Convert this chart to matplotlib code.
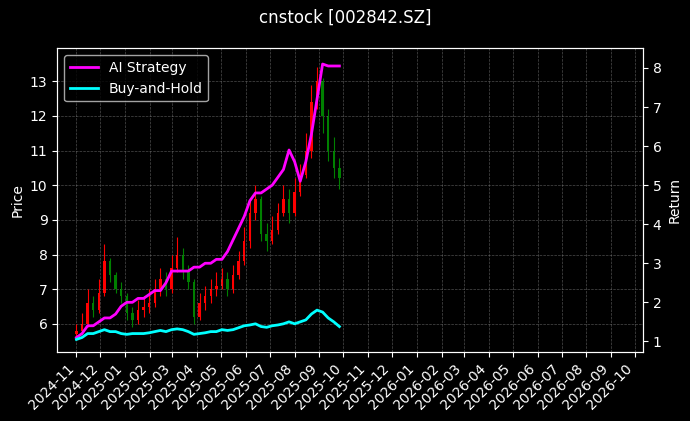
import matplotlib
matplotlib.use("Agg")
import matplotlib.pyplot as plt
import matplotlib.dates as mdates
import pandas as pd

# weekly OHLC
closes = [5.8, 6.0, 6.6, 6.4, 6.9, 7.8, 7.4, 7.0, 6.8, 6.3, 6.1, 6.4, 6.5,
          6.6, 7.0, 7.3, 7.0, 7.6, 8.0, 7.5, 7.2, 6.2, 6.6, 6.8, 7.0,
          7.1, 7.3, 7.0, 7.4, 7.8, 8.4, 9.2, 9.6, 8.6, 8.4, 8.7, 9.2,
          9.6, 9.2, 9.8, 10.3, 11.0, 12.4, 13.0, 12.0, 11.0, 10.5, 10.2]
opens = [5.7, 5.8, 6.0, 6.6, 6.4, 6.9, 7.8, 7.4, 7.0, 6.8, 6.3, 6.1, 6.4,
         6.5, 6.6, 7.0, 7.3, 7.0, 7.6, 8.0, 7.5, 7.2, 6.2, 6.6, 6.8,
         7.0, 7.1, 7.3, 7.0, 7.4, 7.8, 8.4, 9.2, 9.6, 8.6, 8.4, 8.7,
         9.2, 9.6, 9.2, 9.8, 10.3, 11.0, 12.4, 13.0, 12.0, 11.0, 10.5]
highs = [6.0, 6.3, 7.0, 6.8, 7.3, 8.3, 7.9, 7.5, 7.2, 6.9, 6.5, 6.7, 6.8,
         7.0, 7.3, 7.6, 7.5, 8.0, 8.5, 8.2, 7.7, 7.3, 6.9, 7.1, 7.3,
         7.5, 7.6, 7.5, 7.7, 8.1, 8.8, 9.6, 10.0, 9.7, 8.9, 9.1, 9.5,
         10.0, 9.9, 10.2, 10.6, 11.5, 12.9, 13.4, 13.1, 12.2, 11.4, 10.8]
lows = [5.6, 5.7, 5.9, 6.2, 6.3, 6.8, 7.2, 6.9, 6.6, 6.1, 5.9, 6.0, 6.2,
        6.3, 6.5, 6.8, 6.8, 6.9, 7.5, 7.3, 7.0, 6.0, 6.1, 6.4, 6.6,
        6.8, 7.0, 6.8, 6.9, 7.3, 7.7, 8.2, 9.0, 8.4, 8.1, 8.3, 8.6,
        9.1, 8.9, 9.1, 9.7, 10.2, 10.8, 12.2, 11.5, 10.7, 10.2, 9.9]

ai_return = [1.1, 1.2, 1.4, 1.4, 1.5, 1.6, 1.6, 1.7, 1.9, 2.0, 2.0, 2.1, 2.1,
             2.2, 2.3, 2.3, 2.5, 2.8, 2.8, 2.8, 2.8, 2.9, 2.9, 3.0, 3.0,
             3.1, 3.1, 3.3, 3.6, 3.9, 4.2, 4.6, 4.8, 4.8, 4.9, 5.0, 5.2,
             5.4, 5.9, 5.6, 5.1, 5.6, 6.3, 7.2, 8.1, 8.05, 8.05, 8.05]
bh_return = [1.05, 1.1, 1.2, 1.2, 1.25, 1.3, 1.25, 1.25, 1.2, 1.18, 1.2, 1.2, 1.2,
             1.22, 1.25, 1.28, 1.25, 1.3, 1.32, 1.3, 1.25, 1.18, 1.2, 1.22, 1.25,
             1.25, 1.3, 1.28, 1.3, 1.35, 1.4, 1.42, 1.45, 1.38, 1.36, 1.4, 1.42,
             1.45, 1.5, 1.45, 1.5, 1.55, 1.7, 1.8, 1.75, 1.6, 1.5, 1.38]

dates = pd.date_range("2024-11-01", periods=len(closes), freq="7D")

plt.style.use("dark_background")
fig, ax = plt.subplots(figsize=(6.9, 4.21), dpi=100)
fig.subplots_adjust(left=0.083, right=0.932, top=0.885, bottom=0.165)

for d, o, h, l, c in zip(dates, opens, highs, lows, closes):
    col = "red" if c >= o else "green"
    ax.vlines(d, l, h, color=col, linewidth=0.8)
    ax.bar(d, abs(c - o) or 0.02, bottom=min(o, c), width=3, color=col)

ax.set_ylabel("Price")
ax.set_ylim(5.2, 13.95)
ax.grid(True, linestyle="--", linewidth=0.5, color="gray", alpha=0.6)

ax2 = ax.twinx()
ax2.plot(dates, ai_return, color="magenta", linewidth=2, label="AI Strategy")
ax2.plot(dates, bh_return, color="cyan", linewidth=2, label="Buy-and-Hold")
ax2.set_ylabel("Return")
ax2.set_ylim(0.74, 8.5)
ax2.legend(loc="upper left")

ax.set_xlim(pd.Timestamp("2024-10-08"), pd.Timestamp("2026-10-11"))
ax.xaxis.set_major_locator(mdates.MonthLocator())
ax.xaxis.set_major_formatter(mdates.DateFormatter("%Y-%m"))
plt.setp(ax.get_xticklabels(), rotation=45, ha="right")

fig.suptitle("cnstock [002842.SZ]")
fig.savefig("out.png", dpi=100)
